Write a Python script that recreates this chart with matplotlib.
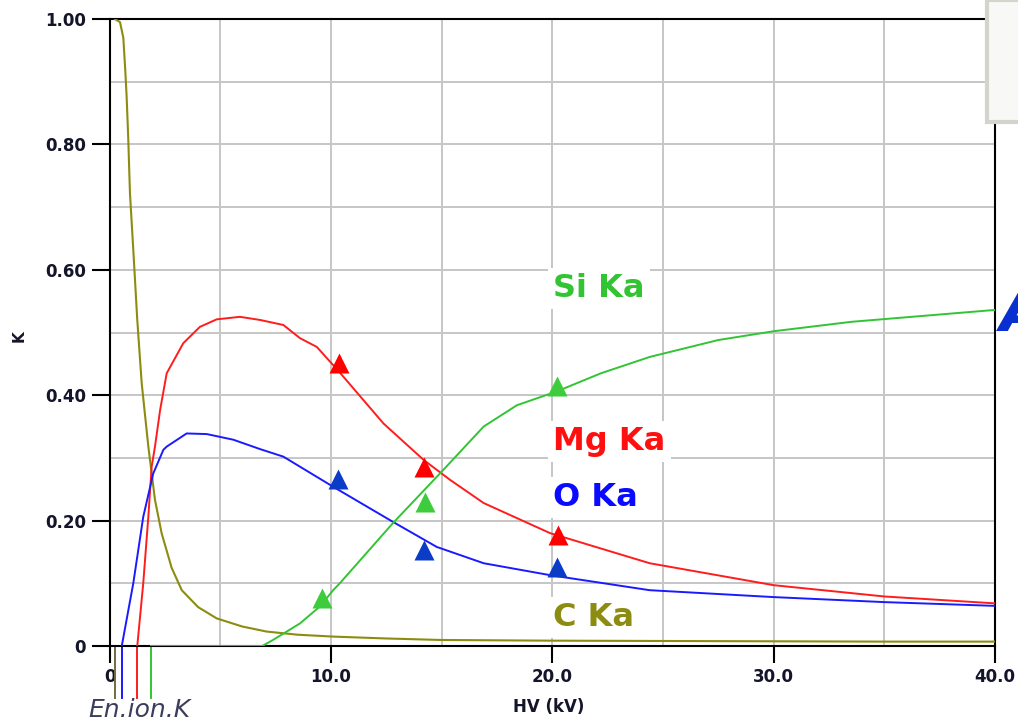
# K-ratio vs accelerating voltage for the Si, Mg, O and C K lines
import matplotlib.pyplot as plt
import matplotlib.transforms as mtransforms
from matplotlib.patches import Rectangle
import numpy as np

# calculated curves (HV in kV, K ratio)
c_hv = [0.24, 0.47, 0.62, 0.70, 0.77, 0.84, 0.92, 1.07, 1.25, 1.45, 1.75, 2.05, 2.35, 2.8,
        3.26, 4.0, 4.84, 6.0, 7.1, 8.5, 10.1, 12.5, 15, 20, 25, 30, 35, 40]
c_k = [1.0, 0.995, 0.97, 0.923, 0.876, 0.812, 0.722, 0.632, 0.52, 0.419, 0.318, 0.233, 0.18, 0.125,
       0.089, 0.062, 0.044, 0.031, 0.023, 0.018, 0.015, 0.012, 0.0096, 0.0085, 0.008, 0.0075, 0.007, 0.007]

mg_hv = [1.25, 1.52, 1.75, 1.9, 2.05, 2.28, 2.58, 3.33, 4.08, 4.84, 5.89, 6.8, 7.85, 8.6, 9.36,
         10.38, 12.37, 14.18, 15.38, 16.9, 19.9, 24.4, 30, 35, 40]
mg_k = [0.0, 0.1, 0.206, 0.286, 0.318, 0.376, 0.435, 0.483, 0.509, 0.521, 0.525, 0.52, 0.512, 0.491, 0.477,
        0.437, 0.355, 0.297, 0.265, 0.228, 0.18, 0.132, 0.097, 0.079, 0.068]

o_hv = [0.55, 1.07, 1.52, 1.97, 2.43, 2.58, 3.48, 4.39, 5.59, 6.8, 7.85, 10.1, 12.8, 14.78,
        16.9, 19.9, 24.4, 30, 35, 40]
o_k = [0.0, 0.1, 0.206, 0.275, 0.313, 0.318, 0.339, 0.338, 0.329, 0.314, 0.302, 0.254, 0.198, 0.158,
       0.132, 0.113, 0.089, 0.078, 0.07, 0.064]

si_hv = [1.87, 6.9, 7.4, 8.6, 9.5, 10.1, 10.4, 12.8, 15.0, 16.9, 18.4, 20.2, 22.2, 24.4, 27.5, 30, 33.5, 40]
si_k = [0, 0, 0.01, 0.036, 0.063, 0.089, 0.1, 0.196, 0.278, 0.35, 0.384, 0.406, 0.435, 0.461,
        0.488, 0.502, 0.517, 0.536]

# measured points
mg_meas_hv = [10.37, 14.2, 20.26]
mg_meas_k = [0.451, 0.286, 0.177]
o_meas_hv = [10.33, 14.2, 20.2]
o_meas_k = [0.267, 0.153, 0.126]
si_meas_hv = [9.6, 14.25, 20.2]
si_meas_k = [0.077, 0.23, 0.415]

# ionisation energies (kV) for C, O, Mg, Si
ion_edges = [0.24, 0.56, 1.24, 1.87]

OLIVE = '#8c8c10'
RED = '#ff1c1c'
BLUE = '#1a1aff'
GREEN = '#33c433'

fig = plt.figure(figsize=(10.18, 7.2), dpi=100)
ax = fig.add_axes([109.6 / 1018, 1 - 646 / 720, (995 - 109.6) / 1018, (646 - 19) / 720])

ax.plot(c_hv, c_k, color=OLIVE, lw=1.5, zorder=3)
ax.plot(mg_hv, mg_k, color=RED, lw=1.4, zorder=3)
ax.plot(o_hv, o_k, color=BLUE, lw=1.4, zorder=3)
ax.plot(si_hv, si_k, color=GREEN, lw=1.4, zorder=3)

ax.plot(mg_meas_hv, mg_meas_k, '^', color='#ff0000', ms=15, mec='none', zorder=4)
ax.plot(o_meas_hv, o_meas_k, '^', color='#0a3cc8', ms=15, mec='none', zorder=4)
ax.plot(si_meas_hv, si_meas_k, '^', color='#3ccc3c', ms=15, mec='none', zorder=4)

ax.set_xlim(0, 40)
ax.set_ylim(0, 1.0)
ax.set_xticks([0, 10, 20, 30, 40])
ax.set_xticklabels(['0', '10.0', '20.0', '30.0', '40.0'])
ax.set_yticks([0, 0.2, 0.4, 0.6, 0.8, 1.0])
ax.set_yticklabels(['0', '0.20', '0.40', '0.60', '0.80', '1.00'])
ax.set_xticks(np.arange(0, 41, 5), minor=True)
ax.set_yticks(np.arange(0, 1.01, 0.1), minor=True)
ax.grid(which='both', color='#c6c6c6', lw=1.4)
ax.set_axisbelow(True)
ax.tick_params(which='minor', length=0)
ax.tick_params(axis='y', which='major', length=13, width=1.5, pad=4, labelsize=12, labelcolor='#14142a')
ax.tick_params(axis='x', which='major', length=12, width=1.5, pad=4, labelsize=12, labelcolor='#14142a')
for lab in ax.get_xticklabels() + ax.get_yticklabels():
    lab.set_fontweight('bold')
for sp in ax.spines.values():
    sp.set_linewidth(1.5)
    sp.set_color('black')

# ionisation markers below the axis
trans = mtransforms.blended_transform_factory(ax.transData, ax.transAxes)
for e, col in zip(ion_edges, ['#6e6e40', BLUE, RED, GREEN]):
    ax.plot([e, e], [0, -0.083], color=col, lw=1.4, transform=trans, clip_on=False)

fig.text(88 / 1018, 1 - 717 / 720, 'En.ion.K', style='italic', fontsize=18,
         color='#3c3c5c', va='baseline', ha='left')
fig.text(549 / 1018, 1 - 707 / 720, 'HV (kV)', fontsize=12, fontweight='bold',
         color='#14142a', ha='center', va='center')
fig.text(19 / 1018, 1 - 336 / 720, 'K', fontsize=11, fontweight='bold', rotation=90,
         color='#14142a', ha='center', va='center')

# line labels
box = dict(facecolor='white', edgecolor='none', pad=4)
for name, col, base in [('Si Ka', GREEN, 297), ('Mg Ka', '#ff1010', 450),
                        ('O Ka', '#0a0aff', 506), ('C Ka', '#8c8c10', 626)]:
    fig.text(553 / 1018, 1 - base / 720, name, fontsize=23, fontweight='bold',
             color=col, va='baseline', ha='left', bbox=box, zorder=5)

# window corner and stray glyph at the right edge
fig.add_artist(Rectangle((987 / 1018, 1 - 122 / 720), 0.05, 122 / 720, transform=fig.transFigure,
                         facecolor='#f8f8f6', edgecolor='#d4d4cc', lw=3, zorder=10))
fig.text(1000 / 1018, 1 - 331 / 720, 'A', color='#0a2fd0', fontsize=44, style='italic',
         fontweight='bold', va='baseline', ha='left')

plt.savefig('out.png', dpi=100)
